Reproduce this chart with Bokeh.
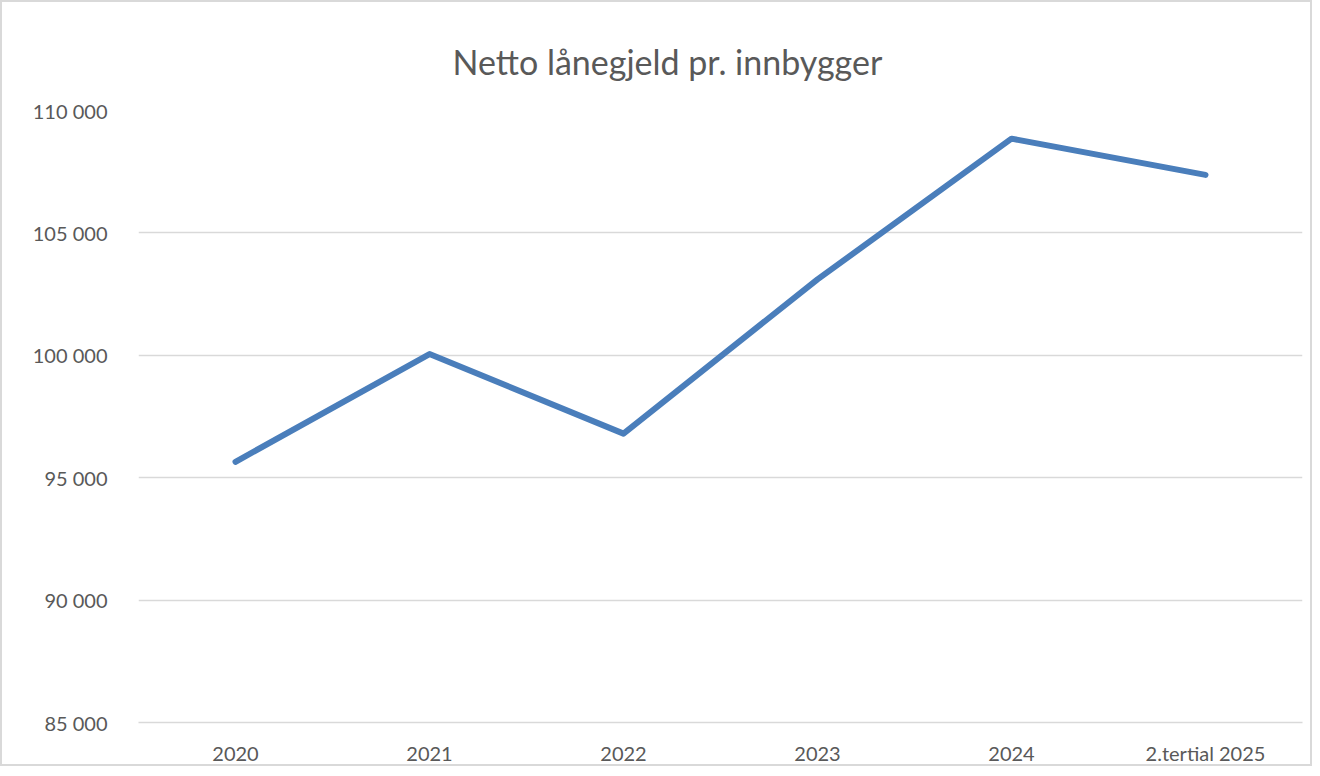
from bokeh.plotting import figure
from bokeh.models import FactorRange, Range1d, FixedTicker
from bokeh.embed import file_html
from bokeh.resources import INLINE

categories = ["2020", "2021", "2022", "2023", "2024", "2.tertial 2025"]
values = [95650, 100050, 96800, 103100, 108850, 107370]
y_ticks = [85000, 90000, 95000, 100000, 105000, 110000]
y_tick_labels = ["85 000", "90 000", "95 000", "100 000", "105 000", "110 000"]

FONT = "Lato"
TEXT = "#595959"
GRID = "#d9d9d9"

p = figure(
    x_range=FactorRange(*categories),
    y_range=Range1d(85000, 110000),
    width=1312, height=766,
    output_backend="svg", toolbar_location=None,
    min_border_left=136, min_border_right=12,
    min_border_top=108, min_border_bottom=46,
)
p.styles = {"border": "2px solid #d9d9d9", "box-sizing": "border-box"}

p.line(categories, values, line_color="#4a7ebb", line_width=6,
       line_cap="round", line_join="round")

p.title.text = "Netto lånegjeld pr. innbygger"
p.title.align = "left"
p.title.offset = 314
p.title.text_font = FONT
p.title.text_font_size = "34px"
p.title.text_font_style = "normal"
p.title.text_color = TEXT
p.title.standoff = 58

p.outline_line_color = None
p.xgrid.grid_line_color = None
p.ygrid.grid_line_color = GRID
p.ygrid.grid_line_width = 1.5
p.yaxis.ticker = FixedTicker(ticks=y_ticks)
p.yaxis.major_label_overrides = {t: l for t, l in zip(y_ticks, y_tick_labels)}

for ax in (p.xaxis, p.yaxis):
    ax.axis_line_color = None
    ax.major_tick_line_color = None
    ax.minor_tick_line_color = None
    ax.major_label_text_font = FONT
    ax.major_label_text_font_size = "20px"
    ax.major_label_text_color = TEXT

p.xaxis.axis_line_color = GRID
p.xaxis.axis_line_width = 1.5
p.yaxis.major_label_standoff = 25
p.xaxis.major_label_standoff = 12

open("out.html", "w").write(file_html(p, INLINE))
